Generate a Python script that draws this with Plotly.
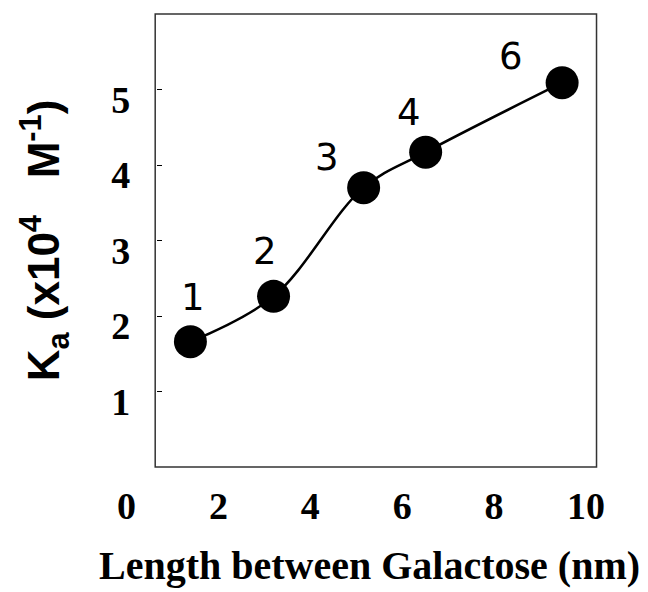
import plotly.graph_objects as go

# Data
spacer_labels = ["1", "2", "3", "4", "6"]
length_nm = [1.39, 3.20, 5.16, 6.51, 9.48]
ka_values = [1.66, 2.26, 3.70, 4.17, 5.09]
x_ticks = [0, 2, 4, 6, 8, 10]
y_ticks = [1, 2, 3, 4, 5]

# label offsets (pixels) - style only
label_dx = [3, -9, -37, -17, -51]
label_dy = [44, 45, 30, 40, 26]

W, H = 648, 592
def px(x):
    return x / W
def py(y):
    return (H - y) / H

fig = go.Figure()
fig.add_trace(go.Scatter(
    x=length_nm, y=ka_values, mode="lines+markers",
    line=dict(color="black", width=2.5, shape="spline", smoothing=1.0),
    marker=dict(color="black", size=33),
    cliponaxis=False, showlegend=False, hoverinfo="skip"))
# invisible trace for the tick-mark axis
fig.add_trace(go.Scatter(x=length_nm, y=ka_values, yaxis="y2", mode="markers",
                         marker=dict(opacity=0), showlegend=False, hoverinfo="skip"))

serif_bold = dict(family="Liberation Serif", size=38, color="black", weight="bold")

fig.update_layout(
    width=W, height=H,
    margin=dict(l=0, r=0, t=0, b=0),
    paper_bgcolor="white", plot_bgcolor="white",
    xaxis=dict(domain=[px(122), px(603)], range=[0, 10], tickvals=x_ticks,
               showgrid=False, zeroline=False, showline=False, ticks="",
               tickfont=serif_bold, ticklabelstandoff=13),
    yaxis=dict(domain=[py(467), py(14)], range=[0, 6], tickvals=y_ticks,
               anchor="free", position=px(126),
               showgrid=False, zeroline=False, showline=False, ticks="",
               tickfont=serif_bold, ticklabelshift=10,
               title=dict(text="K<sub>a</sub> (x10<sup>4</sup>   M<sup>-1</sup>)",
                          font=dict(family="Liberation Sans", size=44, color="black", weight="bold"),
                          standoff=36)),
    yaxis2=dict(overlaying="y", anchor="free", position=px(152.5), range=[0, 6],
                tickvals=y_ticks, ticks="inside", ticklen=5, tickcolor="black",
                showticklabels=False, showgrid=False, zeroline=False, showline=False),
    shapes=[dict(type="rect", xref="paper", yref="paper",
                 x0=px(152), x1=px(614), y0=py(467), y1=py(14),
                 line=dict(color="#333333", width=1.5))],
)

for lab, x, y, dx, dy in zip(spacer_labels, length_nm, ka_values, label_dx, label_dy):
    fig.add_annotation(x=x, y=y, text=lab, showarrow=False, xshift=dx, yshift=dy,
                       font=dict(family="DejaVu Sans", size=37, color="black"))

fig.add_annotation(xref="paper", yref="paper", x=px(376), y=py(565),
                   text="Length between Galactose (nm)", showarrow=False,
                   xanchor="center", yanchor="middle",
                   font=dict(family="Liberation Serif", size=40, color="black", weight="bold"))

fig.write_html("out.html")
